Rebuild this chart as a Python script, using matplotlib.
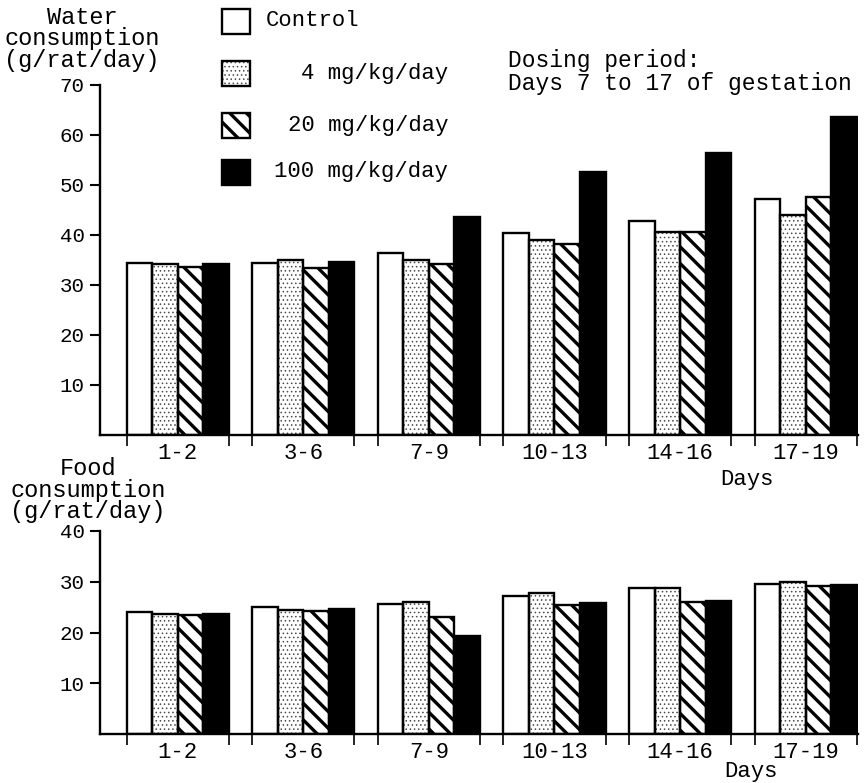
import matplotlib
matplotlib.use("Agg")
import matplotlib.pyplot as plt
from matplotlib.patches import Rectangle
import numpy as np

plt.rcParams["font.family"] = ["Liberation Mono", "DejaVu Sans Mono"]
plt.rcParams["hatch.linewidth"] = 2.4

DAYS = ["1-2", "3-6", "7-9", "10-13", "14-16", "17-19"]
GROUPS = ["Control", "4 mg/kg/day", "20 mg/kg/day", "100 mg/kg/day"]

# water consumption (g/rat/day)
WATER_CONTROL = [34.5, 34.5, 36.4, 40.5, 42.8, 47.2]
WATER_4MG = [34.2, 35.0, 35.0, 39.0, 40.6, 44.0]
WATER_20MG = [33.6, 33.4, 34.2, 38.3, 40.6, 47.6]
WATER_100MG = [34.2, 34.6, 43.6, 52.6, 56.4, 63.6]

# food consumption (g/rat/day)
FOOD_CONTROL = [24.0, 25.1, 25.7, 27.1, 28.7, 29.5]
FOOD_4MG = [23.6, 24.4, 26.1, 27.7, 28.7, 30.0]
FOOD_20MG = [23.4, 24.2, 23.0, 25.5, 26.1, 29.1]
FOOD_100MG = [23.6, 24.7, 19.3, 25.8, 26.3, 29.3]

WATER = [WATER_CONTROL, WATER_4MG, WATER_20MG, WATER_100MG]
FOOD = [FOOD_CONTROL, FOOD_4MG, FOOD_20MG, FOOD_100MG]

# (face, hatch, hatch colour, hatch linewidth)
STYLES = [
    ("white", None, "black", 0),
    ("white", "....", "#4a4a4a", 0.6),
    ("white", "\\\\", "black", 2.4),
    ("black", None, "black", 0),
]

BAR_W = 0.203
EDGE_LW = 1.7


def styled_patch(p, style):
    face, hatch, hcol, hlw = style
    p.set_facecolor(face)
    if hatch:
        p.set_hatch(hatch)
        p.set_edgecolor(hcol)
        p.set_linewidth(0)
        if hasattr(p, "set_hatch_linewidth"):
            p.set_hatch_linewidth(hlw)


def draw_panel(ax, series, ymax, yticks):
    x = np.arange(len(DAYS))
    for i, (vals, style) in enumerate(zip(series, STYLES)):
        pos = x + (i - 1.5) * BAR_W
        bars = ax.bar(pos, vals, BAR_W, zorder=2)
        for b in bars:
            styled_patch(b, style)
        ax.bar(pos, vals, BAR_W, fill=False, edgecolor="black",
               linewidth=EDGE_LW, zorder=3)

    half = 2 * BAR_W
    ax.set_xlim(-half - 0.212, len(DAYS) - 1 + half + 0.01)
    ax.set_ylim(0, ymax)
    ax.set_yticks(yticks)
    ax.set_yticklabels([str(t) for t in yticks], fontsize=15)
    ax.set_xticks(x)
    ax.set_xticklabels(DAYS, fontsize=16)
    edges = np.concatenate([x - half, x + half])
    ax.set_xticks(np.sort(edges), minor=True)
    ax.tick_params(axis="x", which="major", length=0, pad=6)
    ax.tick_params(axis="x", which="minor", length=8, width=1.2, direction="out")
    ax.tick_params(axis="y", length=7, width=1.5, direction="out", pad=4)
    for s in ("top", "right"):
        ax.spines[s].set_visible(False)
    for s in ("left", "bottom"):
        ax.spines[s].set_linewidth(1.7)


fig = plt.figure(figsize=(8.65, 7.83), dpi=100)
W, H = 865, 783

ax_top = fig.add_axes([100 / W, 1 - 435 / H, 758 / W, 350 / H])
draw_panel(ax_top, WATER, 70, [10, 20, 30, 40, 50, 60, 70])

ax_bot = fig.add_axes([100 / W, 1 - 734 / H, 758 / W, 203 / H])
draw_panel(ax_bot, FOOD, 40, [10, 20, 30, 40])

# overlay in pixel coordinates for labels and key
ov = fig.add_axes([0, 0, 1, 1])
ov.set_xlim(0, W)
ov.set_ylim(H, 0)
ov.axis("off")

ov.text(82, 39, "Water\nconsumption\n(g/rat/day)", ha="center", va="center",
        fontsize=17, linespacing=0.92)
ov.text(88, 490, "Food\nconsumption\n(g/rat/day)", ha="center", va="center",
        fontsize=17, linespacing=0.92)
ov.text(747, 480, "Days", ha="center", va="center", fontsize=16)
ov.text(751, 772, "Days", ha="center", va="center", fontsize=16)
ov.text(508, 72, "Dosing period:\nDays 7 to 17 of gestation", ha="left",
        va="center", fontsize=16.5, linespacing=0.95)

key_y = [21, 73, 125, 172]
for name, style, yc in zip(GROUPS, STYLES, key_y):
    r = Rectangle((222, yc - 12.5), 28, 25)
    styled_patch(r, style)
    ov.add_patch(r)
    ov.add_patch(Rectangle((222, yc - 12.5), 28, 25, fill=False,
                           edgecolor="black", linewidth=EDGE_LW))
    if name == "Control":
        ov.text(266, yc, name, ha="left", va="center", fontsize=16)
    else:
        ov.text(448, yc, name, ha="right", va="center", fontsize=16)

fig.savefig("out.png", dpi=100, facecolor="white")
